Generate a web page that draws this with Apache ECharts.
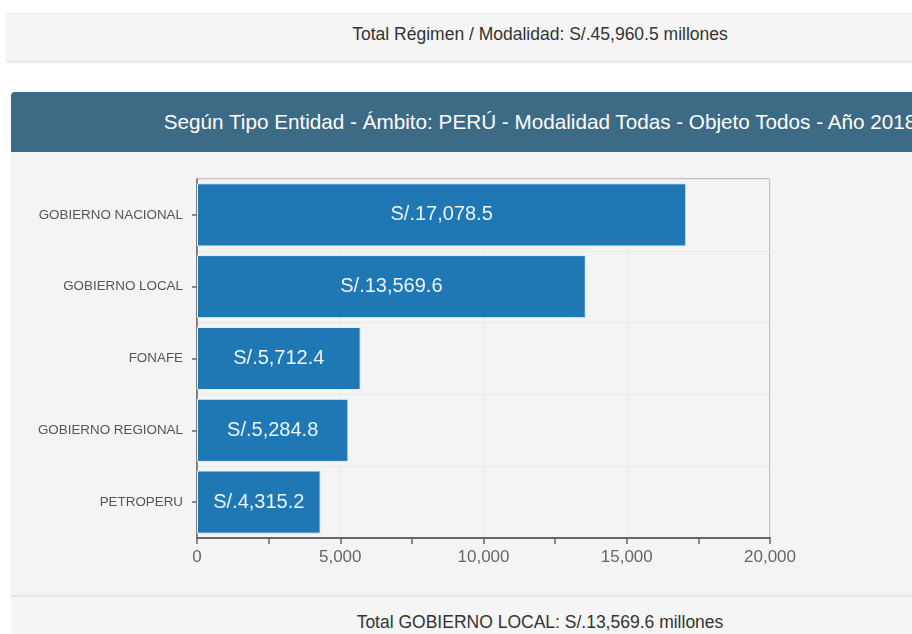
<!DOCTYPE html>
<html>
<head>
<meta charset="utf-8">
<script src="https://cdn.jsdelivr.net/npm/echarts@6/dist/echarts.min.js"></script>
<style>
  html, body { margin:0; padding:0; width:912px; height:634px; overflow:hidden; background:#fff;
    font-family: "Liberation Sans", Arial, sans-serif; }
  .panel-top { position:absolute; left:6px; top:13px; width:920px; height:47px; background:#f5f5f5;
    border-top:1px solid #ececec; border-bottom:1px solid #e2e2e2; border-radius:3px;
    box-shadow:0 1px 2px rgba(0,0,0,0.08); }
  .txt { position:absolute; white-space:nowrap; color:#333; font-size:17.5px; left:0; width:1080px; text-align:center; }
  .header { position:absolute; left:11px; top:92px; width:920px; height:60px; background:#3d6b85;
    border-radius:4px 0 0 0; }
  .body { position:absolute; left:11px; top:152px; width:920px; height:443px; background:#f4f4f4; }
  .footer { position:absolute; left:11px; top:595px; width:920px; height:45px; background:#f5f5f5;
    border-top:2px solid #e6e6e6; }
  #chart { position:absolute; left:0; top:0; width:912px; height:634px; }
</style>
</head>
<body>
<div class="panel-top"></div>
<div class="txt" id="topTxt" style="top:24px;"></div>
<div class="header"></div>
<div class="txt" id="hdrTxt" style="top:110px;color:#fff;font-size:20.7px;"></div>
<div class="body"></div>
<div class="footer"></div>
<div class="txt" id="footTxt" style="top:612px;"></div>
<div id="chart"></div>
<script>
const topText = "Total Régimen / Modalidad: S/.45,960.5 millones";
const headerText = "Según Tipo Entidad - Ámbito: PERÚ - Modalidad Todas - Objeto Todos - Año 2018";
const footerText = "Total GOBIERNO LOCAL: S/.13,569.6 millones";
const categories = ["GOBIERNO NACIONAL", "GOBIERNO LOCAL", "FONAFE", "GOBIERNO REGIONAL", "PETROPERU"];
const values = [17078.5, 13569.6, 5712.4, 5284.8, 4315.2];
const xTicks = [0, 5000, 10000, 15000, 20000];

document.getElementById('topTxt').textContent = topText;
document.getElementById('hdrTxt').textContent = headerText;
document.getElementById('footTxt').textContent = footerText;

function fmt(v) {
  return v.toLocaleString('en-US', {minimumFractionDigits: 1, maximumFractionDigits: 1});
}

const chart = echarts.init(document.getElementById('chart'), null, {renderer: 'canvas'});
chart.setOption({
  animation: false,
  textStyle: { fontFamily: '"Liberation Sans", Arial, sans-serif' },
  grid: { left: 197, right: 142, top: 179, bottom: 96, show: true, borderColor: '#8a8a8a', borderWidth: 1,
    backgroundColor: 'transparent' },
  xAxis: {
    type: 'value', min: xTicks[0], max: xTicks[xTicks.length - 1], interval: 5000,
    axisLine: { show: true, lineStyle: { color: '#666', width: 2 } },
    axisTick: { show: true, length: 6, lineStyle: { color: '#666', width: 1.5 } },
    minorTick: { show: true, splitNumber: 2, length: 6, lineStyle: { color: '#666', width: 1.5 } },
    splitLine: { show: true, lineStyle: { color: '#eaeaea', width: 1 } },
    axisLabel: { color: '#666', fontSize: 17, margin: 11,
      formatter: v => v.toLocaleString('en-US') }
  },
  yAxis: {
    type: 'category', data: categories, inverse: true,
    axisLine: { show: true, lineStyle: { color: '#666', width: 1.5 } },
    axisTick: { show: true, alignWithLabel: true, length: 5, lineStyle: { color: '#666', width: 1.5 } },
    splitLine: { show: true, lineStyle: { color: '#eaeaea', width: 1 } },
    axisLabel: { color: '#555', fontSize: 13.4, margin: 14 }
  },
  series: [{
    type: 'bar', data: values, barCategoryGap: '12%',
    itemStyle: { color: '#1f77b4', borderColor: '#e4f3ff', borderWidth: 1 },
    label: { show: true, position: 'inside', color: '#eaf5ff', fontSize: 20,
      formatter: p => 'S/.' + fmt(p.value) }
  }]
});
</script>
</body>
</html>
